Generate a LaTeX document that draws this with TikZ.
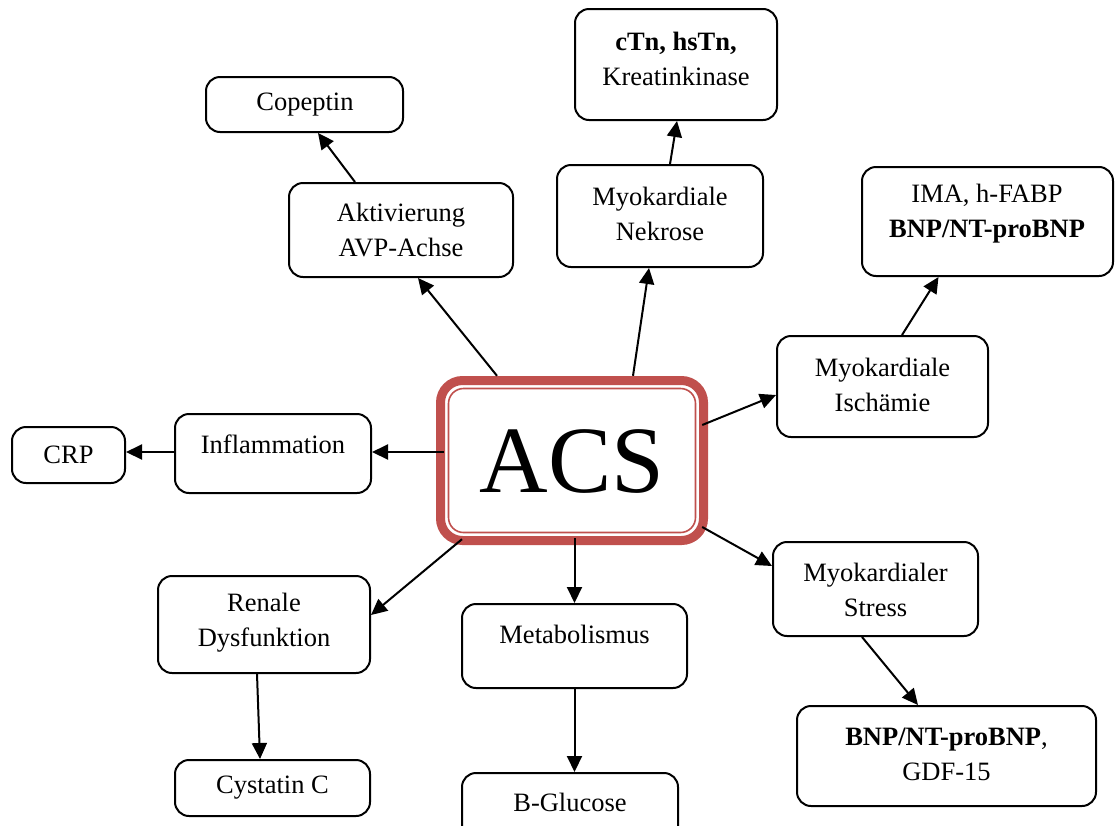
\documentclass[tikz,border=0pt]{standalone}
\usepackage{fontspec}
\setmainfont{Liberation Serif}
\usetikzlibrary{arrows.meta}
\definecolor{acsred}{HTML}{C0504D}
\begin{document}
\begin{tikzpicture}[x=1pt,y=-1pt,
  box/.style={draw=black,line width=2pt,rounded corners=14pt,inner sep=0pt},
  lbl/.style={inner sep=0pt,align=center,font=\fontsize{26.5}{35}\selectfont},
  conn/.style={line width=2pt,-{Triangle[length=16pt,width=15pt]}}]
\useasboundingbox (0,0) rectangle (1115,825);
\fill[white] (0,0) rectangle (1115,825);
% boxes
\node[box,minimum width=197pt,minimum height=55pt] (cop) at (304.5,104.5) {};
\node[box,minimum width=202pt,minimum height=111pt] (ctn) at (676,64.5) {};
\node[box,minimum width=224pt,minimum height=94pt] (akt) at (401,230) {};
\node[box,minimum width=206pt,minimum height=102pt] (nek) at (660,216) {};
\node[box,minimum width=251pt,minimum height=109pt] (ima) at (987.5,221.5) {};
\node[box,minimum width=211pt,minimum height=101pt] (isch) at (882.5,386.5) {};
\node[box,minimum width=196pt,minimum height=79pt] (infl) at (273,453.5) {};
\node[box,minimum width=113pt,minimum height=56pt] (crp) at (68.5,455) {};
\node[box,minimum width=212pt,minimum height=97pt] (ren) at (264,624.5) {};
\node[box,minimum width=195pt,minimum height=56pt] (cys) at (272.5,788) {};
\node[box,minimum width=225pt,minimum height=84pt] (met) at (574.5,646) {};
\node[box,minimum width=216pt,minimum height=70pt] (glu) at (570,808) {};
\node[box,minimum width=205pt,minimum height=94pt] (str) at (875.5,589) {};
\node[box,minimum width=299pt,minimum height=100pt] (bnp) at (946.5,756) {};
% ACS central box
\node[inner sep=0pt,minimum width=272pt,minimum height=169pt] (acs) at (572,460.5) {};
\draw[acsred,line width=9pt,rounded corners=22pt] (440.5,380.5) rectangle (703.5,540.5);
\draw[acsred,line width=1.6pt,rounded corners=15pt] (448.5,388.5) rectangle (695.5,532.5);
\node[inner sep=0pt,font=\fontsize{95}{100}\selectfont] (acst) at (572,462) {ACS};
% texts
\node[lbl] (copt) at (305,105) {Copeptin};
\node[lbl] (ctnt) at (676,59) {\textbf{cTn, hsTn,}\\Kreatinkinase};
\node[lbl] (aktt) at (401,230.5) {Aktivierung\\AVP-Achse};
\node[lbl] (nekt) at (660,213.5) {Myokardiale\\Nekrose};
\node[lbl] (imat) at (987,214) {IMA, h-FABP\\\textbf{BNP/NT-proBNP}};
\node[lbl] (ischt) at (882.5,384.5) {Myokardiale\\Ischämie};
\node[lbl] (inflt) at (273,444) {Inflammation};
\node[lbl] (crpt) at (68.5,455) {CRP};
\node[lbl] (rent) at (264,622.5) {Renale\\Dysfunktion};
\node[lbl] (cyst) at (272.5,788) {Cystatin C};
\node[lbl] (mett) at (574.5,634) {Metabolismus};
\node[lbl] (glut) at (570,802) {B-Glucose};
\node[lbl] (strt) at (875.5,590) {Myokardialer\\Stress};
\node[lbl] (bnpt) at (946.5,754.5) {\textbf{BNP/NT-proBNP},\\GDF-15};
% connectors
\draw[conn] ([xshift=-75pt]acs.north) -- ([xshift=17pt]akt.south);
\draw[conn] ([xshift=-46pt]akt.north) -- ([xshift=13.5pt]cop.south);
\draw[conn] ([xshift=61pt]acs.north) -- ([xshift=-11pt]nek.south);
\draw[conn] ([xshift=10pt]nek.north) -- ([xshift=1pt]ctn.south);
\draw[conn] ([yshift=35.5pt,xshift=-6pt]acs.east) -- ([yshift=-8.5pt]isch.west);
\draw[conn] ([xshift=19.5pt]isch.north) -- ([xshift=-49pt]ima.south);
\draw[conn] ([yshift=8.5pt,xshift=8pt]acs.west) -- ([yshift=1.5pt]infl.east);
\draw[conn] ([yshift=1.5pt]infl.west) -- ([yshift=3pt]crp.east);
\draw[conn] ([xshift=-110pt,yshift=6pt]acs.south) -- ([yshift=9.5pt]ren.east);
\draw[conn] ([xshift=-7pt]ren.south) -- ([xshift=-12.5pt]cys.north);
\draw[conn] ([xshift=2.5pt,yshift=7pt]acs.south) -- (met.north);
\draw[conn] (met.south) -- (met.south |- glu.north);
\draw[conn] ([yshift=-66.5pt,xshift=-6pt]acs.east) -- ([yshift=23pt]str.west);
\draw[conn] ([xshift=-13.5pt]str.south) -- ([xshift=-28.5pt]bnp.north);
\end{tikzpicture}
\end{document}
